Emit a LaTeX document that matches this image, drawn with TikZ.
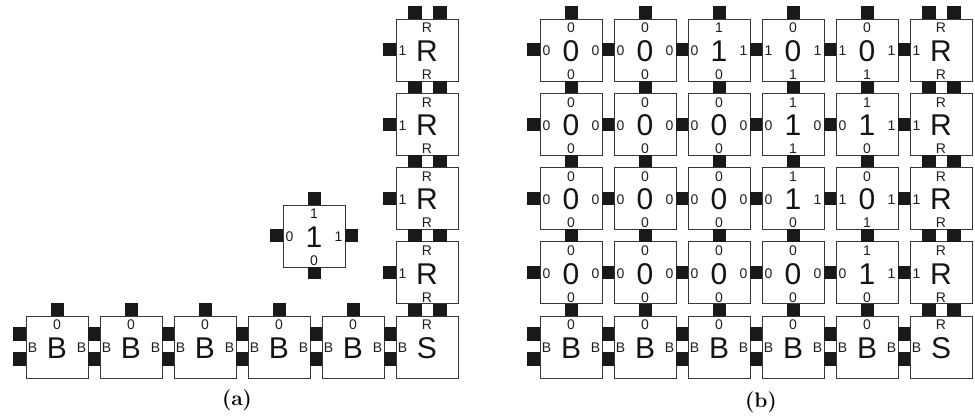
\documentclass[tikz,border=0pt]{standalone}
\usepackage{fontspec}
\setsansfont{Liberation Sans}
\usetikzlibrary{calc}

\tikzset{
  tilebox/.style={draw=black!78, line width=0.9pt, fill=white, minimum size=62pt,
    inner sep=0pt, outer sep=0pt},
  bigtxt/.style={font=\sffamily\fontsize{30}{30}\selectfont, inner sep=0pt, text=black!92},
  smalltxt/.style={font=\sffamily\fontsize{14}{14}\selectfont, inner sep=0pt, text=black!88},
  padfill/.style={fill=black!90},
  captxt/.style={font=\bfseries\fontsize{21}{21}\selectfont, inner sep=0pt},
}

% glue pad sets: offset along the edge / half width
\def\padone{0/6.5}
\def\padtwo{-12.5/7,12.5/7}

% tile: name, left x, top y, centre text, top, left, right, bottom labels
\newcommand\tile[8]{%
  \node[tilebox] (#1) at (#2+31,#3+31) {};
  \node[bigtxt]   (#1-c) at ($(#1.center)+(0,1)$) {#4};
  \node[smalltxt] (#1-t) at ($(#1.center)+(0,-22)$) {#5};
  \node[smalltxt] (#1-l) at ($(#1.center)+(-24.5,1)$) {#6};
  \node[smalltxt] (#1-r) at ($(#1.center)+(24.5,1)$) {#7};
  \node[smalltxt] (#1-b) at ($(#1.center)+(0,24.5)$) {#8};
}
% pads between two tiles (left/right, top/bottom)
\newcommand\gluelr[3]{\foreach \o/\h in #3 {%
  \fill[padfill] ($(#1.east)+(0,\o-\h)$) rectangle ($(#2.west)+(0,\o+\h)$);}}
\newcommand\gluetb[3]{\foreach \o/\h in #3 {%
  \fill[padfill] ($(#1.south)+(\o-\h,0)$) rectangle ($(#2.north)+(\o+\h,0)$);}}
% pads on a free edge of a tile
\newcommand\padW[2]{\foreach \o/\h in #2 {%
  \fill[padfill] ($(#1.west)+(-13,\o-\h)$) rectangle ($(#1.west)+(0,\o+\h)$);}}
\newcommand\padE[2]{\foreach \o/\h in #2 {%
  \fill[padfill] ($(#1.east)+(0,\o-\h)$) rectangle ($(#1.east)+(13,\o+\h)$);}}
\newcommand\padN[2]{\foreach \o/\h in #2 {%
  \fill[padfill] ($(#1.north)+(\o-\h,-12.5)$) rectangle ($(#1.north)+(\o+\h,0)$);}}
\newcommand\padS[2]{\foreach \o/\h in #2 {%
  \fill[padfill] ($(#1.south)+(\o-\h,0)$) rectangle ($(#1.south)+(\o+\h,12.5)$);}}

\begin{document}
\begin{tikzpicture}[x=1pt,y=-1pt]
\useasboundingbox (0,0) rectangle (975,419);

% ---------------- (a) ----------------
\foreach \j/\xx in {1/26,2/100,3/174,4/248,5/322}
  {\tile{a5\j}{\xx}{316}{B}{0}{B}{B}{}}
\tile{a56}{396}{316}{S}{R}{B}{}{}
\tile{a46}{396}{241.75}{R}{R}{1}{}{R}
\tile{a36}{396}{167.5}{R}{R}{1}{}{R}
\tile{a26}{396}{93.25}{R}{R}{1}{}{R}
\tile{a16}{396}{19}{R}{R}{1}{}{R}
\tile{one}{283}{205}{1}{1}{0}{1}{0}

\padW{a51}{\padtwo}
\foreach \j [evaluate=\j as \k using int(\j+1)] in {1,...,5} {
  \gluelr{a5\j}{a5\k}{\padtwo}
  \padN{a5\j}{\padone}
}
\foreach \i [evaluate=\i as \k using int(\i+1)] in {1,...,4} {
  \gluetb{a\i6}{a\k6}{\padtwo}
  \padW{a\i6}{\padone}
}
\padN{a16}{\padtwo}
\padN{one}{\padone}
\padS{one}{\padone}
\padW{one}{\padone}
\padE{one}{\padone}

% ---------------- (b) ----------------
% row 1
\tile{b11}{540}{19}{0}{0}{0}{0}{0}
\tile{b12}{614}{19}{0}{0}{0}{0}{0}
\tile{b13}{688}{19}{1}{1}{0}{1}{0}
\tile{b14}{762}{19}{0}{0}{1}{1}{1}
\tile{b15}{836}{19}{0}{0}{1}{1}{1}
\tile{b16}{910}{19}{R}{R}{1}{}{R}
% row 2
\tile{b21}{540}{93.25}{0}{0}{0}{0}{0}
\tile{b22}{614}{93.25}{0}{0}{0}{0}{0}
\tile{b23}{688}{93.25}{0}{0}{0}{0}{0}
\tile{b24}{762}{93.25}{1}{1}{0}{0}{1}
\tile{b25}{836}{93.25}{1}{1}{0}{1}{0}
\tile{b26}{910}{93.25}{R}{R}{1}{}{R}
% row 3
\tile{b31}{540}{167.5}{0}{0}{0}{0}{0}
\tile{b32}{614}{167.5}{0}{0}{0}{0}{0}
\tile{b33}{688}{167.5}{0}{0}{0}{0}{0}
\tile{b34}{762}{167.5}{1}{1}{0}{1}{0}
\tile{b35}{836}{167.5}{0}{0}{1}{1}{1}
\tile{b36}{910}{167.5}{R}{R}{1}{}{R}
% row 4
\tile{b41}{540}{241.75}{0}{0}{0}{0}{0}
\tile{b42}{614}{241.75}{0}{0}{0}{0}{0}
\tile{b43}{688}{241.75}{0}{0}{0}{0}{0}
\tile{b44}{762}{241.75}{0}{0}{0}{0}{0}
\tile{b45}{836}{241.75}{1}{1}{0}{1}{0}
\tile{b46}{910}{241.75}{R}{R}{1}{}{R}
% row 5
\foreach \j/\xx in {1/540,2/614,3/688,4/762,5/836}
  {\tile{b5\j}{\xx}{316}{B}{0}{B}{B}{}}
\tile{b56}{910}{316}{S}{R}{B}{}{}

\foreach \i in {1,...,4} {
  \padW{b\i1}{\padone}
  \foreach \j [evaluate=\j as \k using int(\j+1)] in {1,...,5} {
    \gluelr{b\i\j}{b\i\k}{\padone}
  }
}
\padW{b51}{\padtwo}
\foreach \j [evaluate=\j as \k using int(\j+1)] in {1,...,5} {
  \gluelr{b5\j}{b5\k}{\padtwo}
  \padN{b1\j}{\padone}
}
\padN{b16}{\padtwo}
\foreach \i [evaluate=\i as \k using int(\i+1)] in {1,...,4} {
  \foreach \j in {1,...,5} {
    \gluetb{b\i\j}{b\k\j}{\padone}
  }
  \gluetb{b\i6}{b\k6}{\padtwo}
}

% captions
\node[captxt] (capa) at (237,400) {(a)};
\node[captxt] (capb) at (761,402) {(b)};
\end{tikzpicture}
\end{document}
